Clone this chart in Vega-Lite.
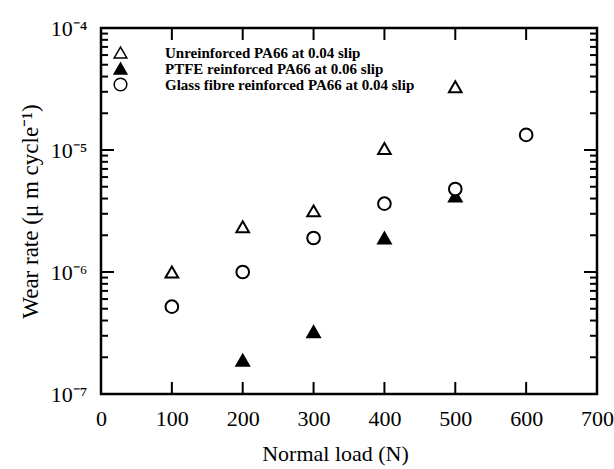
{
  "$schema": "https://vega.github.io/schema/vega-lite/v6.json",
  "autosize": {"type": "none"},
  "padding": {"left": 101, "top": 28, "right": 17, "bottom": 75},
  "width": 496,
  "height": 366,
  "background": "white",
  "config": {
    "view": {"stroke": "black", "strokeWidth": 2.5},
    "font": "Liberation Serif",
    "axis": {"grid": false, "domain": false, "ticks": false, "labelColor": "black", "titleColor": "black", "labelFont": "Liberation Serif", "titleFont": "Liberation Serif", "titleFontWeight": "normal"}
  },
  "datasets": {
    "points": [
      {"load": 100, "wear": 1.0e-6, "series": "Unreinforced PA66 at 0.04 slip"},
      {"load": 200, "wear": 2.35e-6, "series": "Unreinforced PA66 at 0.04 slip"},
      {"load": 300, "wear": 3.17e-6, "series": "Unreinforced PA66 at 0.04 slip"},
      {"load": 400, "wear": 1.03e-5, "series": "Unreinforced PA66 at 0.04 slip"},
      {"load": 500, "wear": 3.3e-5, "series": "Unreinforced PA66 at 0.04 slip"},
      {"load": 200, "wear": 1.89e-7, "series": "PTFE reinforced PA66 at 0.06 slip"},
      {"load": 300, "wear": 3.24e-7, "series": "PTFE reinforced PA66 at 0.06 slip"},
      {"load": 400, "wear": 1.9e-6, "series": "PTFE reinforced PA66 at 0.06 slip"},
      {"load": 500, "wear": 4.2e-6, "series": "PTFE reinforced PA66 at 0.06 slip"},
      {"load": 100, "wear": 5.2e-7, "series": "Glass fibre reinforced PA66 at 0.04 slip"},
      {"load": 200, "wear": 1.0e-6, "series": "Glass fibre reinforced PA66 at 0.04 slip"},
      {"load": 300, "wear": 1.9e-6, "series": "Glass fibre reinforced PA66 at 0.04 slip"},
      {"load": 400, "wear": 3.63e-6, "series": "Glass fibre reinforced PA66 at 0.04 slip"},
      {"load": 500, "wear": 4.79e-6, "series": "Glass fibre reinforced PA66 at 0.04 slip"},
      {"load": 600, "wear": 1.33e-5, "series": "Glass fibre reinforced PA66 at 0.04 slip"}
    ],
    "xticks": [{"v": 100}, {"v": 200}, {"v": 300}, {"v": 400}, {"v": 500}, {"v": 600}],
    "ymajor": [{"v": 1e-6}, {"v": 1e-5}],
    "yminor": [{"v": 2e-7}, {"v": 3e-7}, {"v": 4e-7}, {"v": 5e-7}, {"v": 6e-7}, {"v": 7e-7}, {"v": 8e-7}, {"v": 9e-7}, {"v": 2e-6}, {"v": 3e-6}, {"v": 4e-6}, {"v": 5e-6}, {"v": 6e-6}, {"v": 7e-6}, {"v": 8e-6}, {"v": 9e-6}, {"v": 2e-5}, {"v": 3e-5}, {"v": 4e-5}, {"v": 5e-5}, {"v": 6e-5}, {"v": 7e-5}, {"v": 8e-5}, {"v": 9e-5}]
  },
  "layer": [
    {
      "data": {"name": "points"},
      "mark": {"type": "point", "filled": true, "stroke": "black", "strokeWidth": 2, "size": 160, "opacity": 1},
      "encoding": {
        "x": {"field": "load", "type": "quantitative", "scale": {"domain": [0, 700], "nice": false, "zero": false},
          "axis": {"orient": "bottom", "values": [0, 100, 200, 300, 400, 500, 600, 700], "labelPadding": 14, "labelFontSize": 22, "labelFlush": false, "title": "Normal load (N)", "titleFontSize": 22, "titleX": 234, "titleY": 59, "titleBaseline": "middle", "titleAlign": "center"}},
        "y": {"field": "wear", "type": "quantitative", "scale": {"type": "log", "domain": [1e-7, 1e-4], "nice": false},
          "axis": {"orient": "left", "values": [1e-7, 1e-6, 1e-5, 1e-4], "labelPadding": 14, "labelFontSize": 22, "labelFlush": false, "labelExpr": "datum.value < 5e-7 ? '10⁻⁷' : datum.value < 5e-6 ? '10⁻⁶' : datum.value < 5e-5 ? '10⁻⁵' : '10⁻⁴'", "title": "Wear rate (μ m cycle⁻¹)", "titleFontSize": 23, "titleX": -71, "titleY": 183, "titleAngle": -90, "titleBaseline": "middle", "titleAlign": "center"}},
        "shape": {"field": "series", "type": "nominal",
          "scale": {"domain": ["Unreinforced PA66 at 0.04 slip", "PTFE reinforced PA66 at 0.06 slip", "Glass fibre reinforced PA66 at 0.04 slip"], "range": ["triangle-up", "triangle-up", "circle"]},
          "legend": {"title": null, "orient": "none", "legendX": 12, "legendY": 17, "padding": 0, "labelFont": "Liberation Serif", "labelFontWeight": "bold", "labelFontSize": 15, "labelColor": "black", "labelOffset": 37, "symbolSize": 160, "rowPadding": 0, "clipHeight": 15, "labelLimit": 400,
            "encode": {"symbols": {"update": {"stroke": {"value": "black"}, "strokeWidth": {"value": 2}}}}}},
        "fill": {"field": "series", "type": "nominal",
          "scale": {"domain": ["Unreinforced PA66 at 0.04 slip", "PTFE reinforced PA66 at 0.06 slip", "Glass fibre reinforced PA66 at 0.04 slip"], "range": ["white", "black", "white"]},
          "legend": {"title": null, "orient": "none", "legendX": 12, "legendY": 17, "padding": 0, "labelFont": "Liberation Serif", "labelFontWeight": "bold", "labelFontSize": 15, "labelColor": "black", "labelOffset": 37, "symbolSize": 160, "rowPadding": 0, "clipHeight": 15, "labelLimit": 400,
            "encode": {"symbols": {"update": {"stroke": {"value": "black"}, "strokeWidth": {"value": 2}}}}}}
      }
    },
    {
      "data": {"name": "xticks"},
      "mark": {"type": "tick", "orient": "vertical", "color": "black", "size": 24, "thickness": 2, "clip": true, "opacity": 1},
      "encoding": {
        "x": {"field": "v", "type": "quantitative"},
        "y": {"datum": 1e-7, "type": "quantitative"}
      }
    },
    {
      "data": {"name": "xticks"},
      "mark": {"type": "tick", "orient": "vertical", "color": "black", "size": 24, "thickness": 2, "clip": true, "opacity": 1},
      "encoding": {
        "x": {"field": "v", "type": "quantitative"},
        "y": {"datum": 1e-4, "type": "quantitative"}
      }
    },
    {
      "data": {"name": "ymajor"},
      "mark": {"type": "tick", "orient": "horizontal", "color": "black", "size": 26, "thickness": 2, "clip": true, "opacity": 1},
      "encoding": {
        "y": {"field": "v", "type": "quantitative"},
        "x": {"datum": 0, "type": "quantitative"}
      }
    },
    {
      "data": {"name": "ymajor"},
      "mark": {"type": "tick", "orient": "horizontal", "color": "black", "size": 26, "thickness": 2, "clip": true, "opacity": 1},
      "encoding": {
        "y": {"field": "v", "type": "quantitative"},
        "x": {"datum": 700, "type": "quantitative"}
      }
    },
    {
      "data": {"name": "yminor"},
      "mark": {"type": "tick", "orient": "horizontal", "color": "black", "size": 14, "thickness": 2, "clip": true, "opacity": 1},
      "encoding": {
        "y": {"field": "v", "type": "quantitative"},
        "x": {"datum": 0, "type": "quantitative"}
      }
    },
    {
      "data": {"name": "yminor"},
      "mark": {"type": "tick", "orient": "horizontal", "color": "black", "size": 14, "thickness": 2, "clip": true, "opacity": 1},
      "encoding": {
        "y": {"field": "v", "type": "quantitative"},
        "x": {"datum": 700, "type": "quantitative"}
      }
    }
  ]
}
